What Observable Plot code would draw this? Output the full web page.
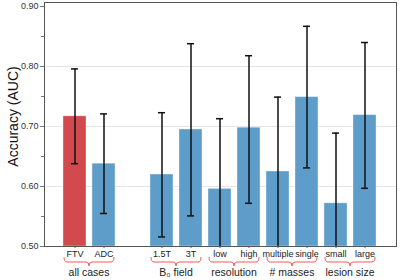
<!DOCTYPE html>
<html>
<head>
<meta charset="utf-8">
<script src="https://cdn.jsdelivr.net/npm/d3@7"></script>
<script src="https://cdn.jsdelivr.net/npm/@observablehq/plot@0.6"></script>
<style>
  html, body { margin: 0; padding: 0; background: #fff; }
  #chart { width: 400px; height: 280px; }
</style>
</head>
<body>
<div id="chart"></div>
<script>
// slot order along x; "" is the empty gap slot
const categories = ["FTV", "ADC", "", "1.5T", "3T", "low", "high", "multiple", "single", "small", "large"];
const barCats  = ["FTV", "ADC", "1.5T", "3T", "low", "high", "multiple", "single", "small", "large"];
const auc      = [0.717, 0.638, 0.620, 0.695, 0.596, 0.698, 0.625, 0.749, 0.572, 0.719];
const ciLow    = [0.638, 0.555, 0.516, 0.551, 0.478, 0.572, 0.490, 0.631, 0.455, 0.597];
const ciHigh   = [0.796, 0.721, 0.723, 0.838, 0.713, 0.818, 0.749, 0.867, 0.689, 0.840];
const highlight = ["FTV"];

const groupLabels = ["all cases", "B\u2080 field", "resolution", "# masses", "lesion size"];
const groupStart  = ["FTV", "1.5T", "low", "multiple", "small"];
const groupEnd    = ["ADC", "3T", "high", "single", "large"];

const majorTicks = [0.5, 0.6, 0.7, 0.8, 0.9];
const minorTicks = [0.55, 0.65, 0.75, 0.85];
const gridLines  = [0.6, 0.7, 0.8];

const data = barCats.map((c, i) => ({cat: c, auc: auc[i], lo: ciLow[i], hi: ciHigh[i]}));
const groups = groupLabels.map((g, i) => ({label: g, from: groupStart[i], to: groupEnd[i]}));

const RED = "#d24a4d", BLUE = "#5e9dc9", BRACE = "#f25a5a";

function braces(index, scales, values, dimensions) {
  const x = scales.x;
  const bw = x.bandwidth ? x.bandwidth() : 24;
  const g = d3.create("svg:g");
  const yTop = 257, yMid = 262, yBot = 266, r = 3;
  for (const grp of groups) {
    const x0 = x(grp.from) + 1, x1 = x(grp.to) + bw - 1, xc = (x0 + x1) / 2;
    const p = `M${x0},${yTop} Q${x0},${yMid} ${x0 + r},${yMid} L${xc - r},${yMid} Q${xc},${yMid} ${xc},${yBot} Q${xc},${yMid} ${xc + r},${yMid} L${x1 - r},${yMid} Q${x1},${yMid} ${x1},${yTop}`;
    g.append("path").attr("d", p).attr("fill", "none").attr("stroke", BRACE).attr("stroke-width", 1);
    g.append("text").attr("x", xc).attr("y", 276).attr("text-anchor", "middle")
      .attr("font-size", 10.5).attr("fill", "#222").attr("font-family", "Liberation Sans, Arial, sans-serif")
      .text(grp.label);
  }
  return g.node();
}

const chart = Plot.plot({
  width: 400,
  height: 280,
  marginLeft: 44,
  marginRight: 4,
  marginTop: 2,
  marginBottom: 34,
  style: {fontFamily: "Liberation Sans, Arial, sans-serif", fontSize: "9px", color: "#222", background: "#fff"},
  x: {type: "band", domain: categories, paddingInner: 0.19, paddingOuter: 0.52, align: 0.5, axis: null},
  y: {domain: [0.5, 0.9067], axis: null},
  marks: [
    Plot.ruleY(gridLines, {stroke: "#e6e6e6", strokeWidth: 1}),
    Plot.barY(data, {x: "cat", y1: 0.5, y2: "auc", fill: d => highlight.includes(d.cat) ? RED : BLUE, stroke: "#ffffff", strokeOpacity: 0.35, strokeWidth: 1}),
    Plot.ruleX(data, {x: "cat", y1: "lo", y2: "hi", stroke: "#111", strokeWidth: 1.5, clip: true}),
    Plot.tickY(data, {x: "cat", y: "hi", stroke: "#111", strokeWidth: 1.5, insetLeft: 8, insetRight: 8, clip: true}),
    Plot.tickY(data.filter(d => d.lo >= 0.5), {x: "cat", y: "lo", stroke: "#111", strokeWidth: 1.5, insetLeft: 8, insetRight: 8, clip: true}),
    Plot.axisY({ticks: majorTicks, tickFormat: ".2f", tickSize: 4, tickPadding: 2, stroke: "#777", fill: "#333", fontSize: 9, label: null}),
    Plot.axisY({ticks: minorTicks, tickFormat: () => "", tickSize: 3, stroke: "#777", label: null}),
    Plot.axisX({domain: barCats, ticks: barCats, tickSize: 2, tickPadding: 2, stroke: "#555", fill: "#222", fontSize: 9, label: null}),
    Plot.frame({stroke: "#555", strokeWidth: 1}),
    Plot.text(["Accuracy (AUC)"], {frameAnchor: "left", textAnchor: "middle", rotate: -90, dx: -31, dy: -8, fontSize: 14, fill: "#111"}),
    braces
  ]
});
document.getElementById("chart").append(chart);
</script>
</body>
</html>
